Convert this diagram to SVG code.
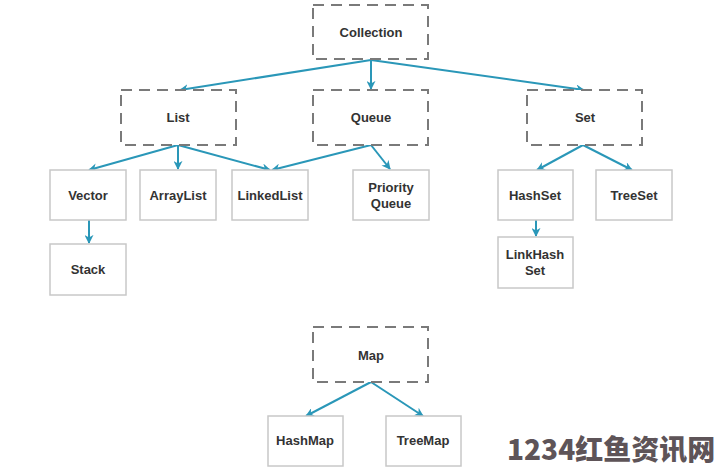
<svg xmlns="http://www.w3.org/2000/svg" width="720" height="472" viewBox="0 0 720 472">
<style>
.dash{fill:#fff;stroke:#7a7a7a;stroke-width:2;stroke-dasharray:11 7}
.box{fill:#fff;stroke:#c8c8c8;stroke-width:1.5}
.t{font-family:"Liberation Sans",Arial,sans-serif;font-weight:bold;font-size:13px;fill:#333;text-anchor:middle}
.c line{stroke:#2a97b8;stroke-width:2;marker-end:url(#ah)}
.wm{font-family:"Noto Sans CJK SC","Liberation Sans",sans-serif;font-weight:900;font-size:28px;fill:#5e5458}
</style>
<defs>
<marker id="ah" viewBox="0 0 10 10" refX="9" refY="5" markerWidth="4.5" markerHeight="4.5" orient="auto" markerUnits="strokeWidth">
<path d="M0,0 L10,5 L0,10 L3,5 Z" fill="#2a97b8"/>
</marker>
</defs>
<rect width="720" height="472" fill="#fff"/>
<g class="c" id="connectors">
<line x1="371" y1="60" x2="180" y2="90"/>
<line x1="371" y1="60" x2="371" y2="89"/>
<line x1="371" y1="60" x2="584" y2="90"/>
<line x1="178" y1="145" x2="89" y2="170"/>
<line x1="178" y1="145" x2="178" y2="169"/>
<line x1="178" y1="145" x2="270" y2="170"/>
<line x1="371" y1="145" x2="272" y2="170"/>
<line x1="371" y1="145" x2="390" y2="169"/>
<line x1="583" y1="145" x2="537" y2="170"/>
<line x1="583" y1="145" x2="632" y2="170"/>
<line x1="89" y1="220" x2="89" y2="243"/>
<line x1="536" y1="220" x2="536" y2="236"/>
<line x1="371" y1="382" x2="306" y2="416"/>
<line x1="371" y1="382" x2="423" y2="416"/>
</g>
<g id="collection"><rect class="dash" x="313" y="5" width="115" height="54"/><text class="t" x="371" y="37">Collection</text></g>
<g id="list"><rect class="dash" x="121" y="90" width="115" height="55"/><text class="t" x="178" y="122">List</text></g>
<g id="queue"><rect class="dash" x="313" y="90" width="115" height="55"/><text class="t" x="371" y="122">Queue</text></g>
<g id="set"><rect class="dash" x="527" y="90" width="115" height="55"/><text class="t" x="585" y="122">Set</text></g>
<g id="vector"><rect class="box" x="50" y="170" width="76" height="50"/><text class="t" x="88" y="200">Vector</text></g>
<g id="arraylist"><rect class="box" x="140" y="170" width="76" height="50"/><text class="t" x="178" y="200">ArrayList</text></g>
<g id="linkedlist"><rect class="box" x="232" y="170" width="76" height="50"/><text class="t" x="270" y="200">LinkedList</text></g>
<g id="priorityqueue"><rect class="box" x="353" y="170" width="76" height="50"/><text class="t" x="391" y="192">Priority</text><text class="t" x="391" y="208">Queue</text></g>
<g id="hashset"><rect class="box" x="498" y="170" width="75" height="50"/><text class="t" x="535" y="200">HashSet</text></g>
<g id="treeset"><rect class="box" x="596" y="170" width="76" height="50"/><text class="t" x="634" y="200">TreeSet</text></g>
<g id="stack"><rect class="box" x="50" y="244" width="76" height="51"/><text class="t" x="88" y="274">Stack</text></g>
<g id="linkhashset"><rect class="box" x="498" y="237" width="75" height="51"/><text class="t" x="535" y="259">LinkHash</text><text class="t" x="535" y="275">Set</text></g>
<g id="map"><rect class="dash" x="313" y="327" width="115" height="55"/><text class="t" x="371" y="360">Map</text></g>
<g id="hashmap"><rect class="box" x="268" y="416" width="75" height="50"/><text class="t" x="305" y="445">HashMap</text></g>
<g id="treemap"><rect class="box" x="386" y="416" width="75" height="50"/><text class="t" x="423" y="445">TreeMap</text></g>
<text class="wm" x="507" y="460">1234红鱼资讯网</text>
</svg>
